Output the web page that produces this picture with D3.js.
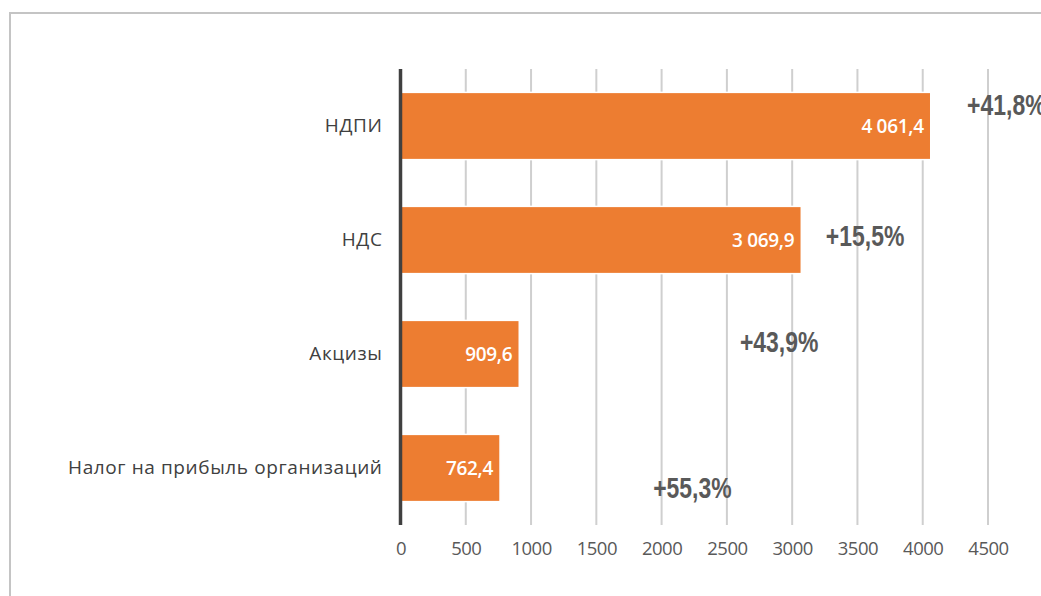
<!DOCTYPE html>
<html>
<head>
<meta charset="utf-8">
<script src="https://cdn.jsdelivr.net/npm/d3@7"></script>
<style>
  body { margin: 0; background: #fff; }
  svg { display: block; }
</style>
</head>
<body>
<svg id="chart" width="1041" height="596"></svg>
<script>
// data
const categories = ["НДПИ", "НДС", "Акцизы", "Налог на прибыль организаций"];
const values = [4061.4, 3069.9, 909.6, 762.4];
const valueLabels = ["4 061,4", "3 069,9", "909,6", "762,4"];
const growth = ["+41,8%", "+15,5%", "+43,9%", "+55,3%"];
// where the growth notes sit, in axis units (x) and offset from band centre (y)
const growthX = [4340, 3258, 2600, 1935];
const growthDy = [-21, -4, -12, 20];
const ticks = [0, 500, 1000, 1500, 2000, 2500, 3000, 3500, 4000, 4500];

const svg = d3.select("#chart");

// outer frame (runs off the right and bottom edge)
svg.append("rect")
  .attr("x", 10).attr("y", 13)
  .attr("width", 1100).attr("height", 700)
  .attr("fill", "none")
  .attr("stroke", "#c4c4c4")
  .attr("stroke-width", 2);

const x = d3.scaleLinear().domain([0, 4500]).range([400.5, 988]);
const y = d3.scaleBand().domain(categories).range([69, 525]).paddingInner(0.41).paddingOuter(0.205);

// gridlines
svg.append("g")
  .selectAll("line")
  .data(ticks.slice(1))
  .join("line")
  .attr("x1", d => x(d)).attr("x2", d => x(d))
  .attr("y1", 69).attr("y2", 525)
  .attr("stroke", "#cfcfcf")
  .attr("stroke-width", 2);

// bottom axis labels
const xAxis = d3.axisBottom(x).tickValues(ticks).tickFormat(d3.format("d")).tickSize(0).tickPadding(17);
const gx = svg.append("g").attr("transform", "translate(0,525)").call(xAxis);
gx.select(".domain").remove();
gx.selectAll("text")
  .attr("fill", "#595959")
  .style("font-family", "'Open Sans', sans-serif")
  .style("font-size", "18.5px")
  .style("letter-spacing", "-0.5px");

// bars
svg.append("g")
  .selectAll("rect")
  .data(values)
  .join("rect")
  .attr("x", x(0))
  .attr("y", (d, i) => y(categories[i]))
  .attr("width", d => x(d) - x(0))
  .attr("height", y.bandwidth())
  .attr("fill", "#ED7D31")
  .attr("stroke", "#fff")
  .attr("stroke-width", 1.5);

// category axis line
svg.append("line")
  .attr("x1", x(0)).attr("x2", x(0))
  .attr("y1", 69).attr("y2", 525)
  .attr("stroke", "#404040")
  .attr("stroke-width", 3.5);

// category labels
const yAxis = d3.axisLeft(y).tickSize(0).tickPadding(18);
const gy = svg.append("g").attr("transform", `translate(${x(0)},0)`).call(yAxis);
gy.select(".domain").remove();
gy.selectAll("text")
  .attr("fill", "#404040")
  .style("font-family", "'Open Sans', sans-serif")
  .style("font-size", "19px")
  .style("letter-spacing", "0.6px");

// value labels inside bars
svg.append("g")
  .selectAll("text")
  .data(values)
  .join("text")
  .attr("x", d => x(d) - 7)
  .attr("y", (d, i) => y(categories[i]) + y.bandwidth() / 2)
  .attr("dy", "0.35em")
  .attr("text-anchor", "end")
  .attr("fill", "#fff")
  .style("font-family", "'Open Sans', sans-serif")
  .style("font-weight", 600)
  .style("font-size", "19px")
  .style("letter-spacing", "-0.3px")
  .text((d, i) => valueLabels[i]);

// growth notes, squeezed to look like a narrow bold face
svg.append("g")
  .selectAll("text")
  .data(growth)
  .join("text")
  .attr("transform", (d, i) =>
    `translate(${x(growthX[i])},${y(categories[i]) + y.bandwidth() / 2 + growthDy[i]}) scale(0.82,1.05)`)
  .attr("dy", "0.35em")
  .attr("fill", "#595959")
  .style("font-family", "'Liberation Sans', Arial, sans-serif")
  .style("font-weight", "bold")
  .style("font-size", "28px")
  .text(d => d);
</script>
</body>
</html>
